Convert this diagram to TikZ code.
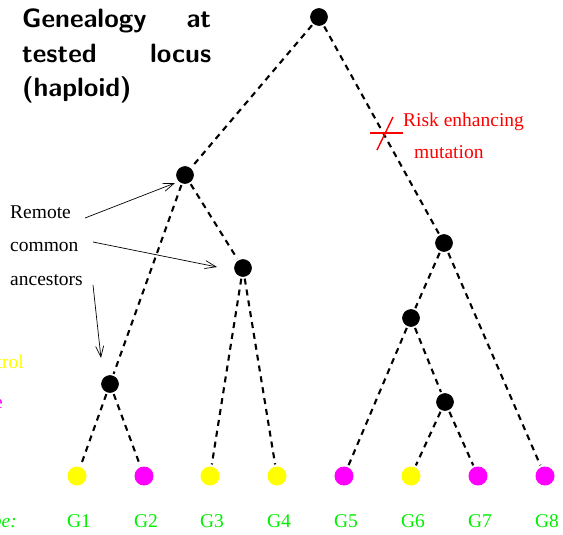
\documentclass[tikz,border=0pt]{standalone}
\usepackage{fontspec}
\setmainfont{Liberation Serif}
\usetikzlibrary{arrows.meta}
\definecolor{ctrl}{RGB}{255,255,0}
\definecolor{cse}{RGB}{255,0,255}
\definecolor{gtext}{RGB}{0,240,0}
\definecolor{mut}{RGB}{255,0,0}
\tikzset{
  anc/.style={circle,fill=black,draw=black,line width=0.6pt,minimum size=17pt,inner sep=0pt},
  leafy/.style={circle,fill=ctrl,minimum size=19pt,inner sep=0pt},
  leafm/.style={circle,fill=cse,minimum size=19pt,inner sep=0pt},
  lineage/.style={line width=2.1pt,dash pattern=on 6pt off 5pt,shorten <=2pt,shorten >=2pt},
  lbl/.style={font=\fontsize{19.5}{22}\selectfont,inner sep=0pt},
  glbl/.style={lbl,text=gtext,anchor=base},
  ttl/.style={anchor=base west,inner sep=0pt,font=\fontsize{26.5}{35}\selectfont\sffamily\bfseries},
  pointer/.style={line width=0.7pt,-{Straight Barb[length=11pt,width=8pt,line width=0.7pt]}},
}
\begin{document}
\begin{tikzpicture}[x=1pt,y=-1pt]
\useasboundingbox (0,0) rectangle (563,535);
\clip (0,0) rectangle (563,535);
% title
\node[ttl] (title1) at (22,28) {\makebox[189pt][s]{Genealogy\hfill at}};
\node[ttl] (title2) at (22,63) {\makebox[189pt][s]{tested\hfill locus}};
\node[ttl] (title3) at (22,97) {(haploid)};
% ancestors
\node[anc] (root) at (319,17) {};
\node[anc] (a) at (185,175) {};
\node[anc] (b) at (243,268) {};
\node[anc] (c) at (110,384) {};
\node[anc] (r) at (444,243) {};
\node[anc] (d) at (411,318) {};
\node[anc] (e) at (445,402) {};
% leaves
\node[leafy] (g1) at (77,476) {};
\node[leafm] (g2) at (144,476) {};
\node[leafy] (g3) at (210,476) {};
\node[leafy] (g4) at (277,476) {};
\node[leafm] (g5) at (344,476) {};
\node[leafy] (g6) at (411,476) {};
\node[leafm] (g7) at (478,476) {};
\node[leafm] (g8) at (545,476) {};
% edges
\draw[lineage] (root) -- (a);
\draw[lineage] (root) -- (r);
\draw[lineage] (a) -- (c);
\draw[lineage] (a) -- (b);
\draw[lineage] (c) -- (g1);
\draw[lineage] (c) -- (g2);
\draw[lineage] (b) -- (g3);
\draw[lineage] (b) -- (g4);
\draw[lineage] (r) -- (d);
\draw[lineage] (r) -- (g8);
\draw[lineage] (d) -- (g5);
\draw[lineage] (d) -- (e);
\draw[lineage] (e) -- (g6);
\draw[lineage] (e) -- (g7);
% mutation
\coordinate (m1) at (370,133);
\coordinate (m2) at (403,133);
\coordinate (m3) at (377,150);
\coordinate (m4) at (393,117);
\draw[mut,line width=1.4pt] (m1) -- (m2);
\draw[mut,line width=1.4pt] (m3) -- (m4);
\node[lbl,text=mut,anchor=base west] (risk) at (403,127) {Risk enhancing};
\node[lbl,text=mut,anchor=base west] (mutn) at (414,158) {mutation};
% remote common ancestors
\node[lbl,anchor=base west] (remote) at (10,218) {Remote};
\node[lbl,anchor=base west] (common) at (10,251) {common};
\node[lbl,anchor=base west] (ancs) at (10,285) {ancestors};
\coordinate (p1s) at (85,218);
\coordinate (p1e) at (175,183);
\coordinate (p2s) at (93,242);
\coordinate (p2e) at (217,267);
\coordinate (p3s) at (93,285);
\coordinate (p3e) at (101,358);
\draw[pointer] (p1s) -- (p1e);
\draw[pointer] (p2s) -- (p2e);
\draw[pointer] (p3s) -- (p3e);
% legend (cropped at left, as in the reference)
\node[lbl,text=ctrl,anchor=base east] (control) at (24,368) {Control};
\node[lbl,text=cse,anchor=base east] (case) at (3,408) {Case};
\node[lbl,text=gtext,anchor=base east] (geno) at (17,527) {\itshape Genotype:};
% genotype labels
\node[glbl] (l1) at (79,527) {G1};
\node[glbl] (l2) at (146,527) {G2};
\node[glbl] (l3) at (212,527) {G3};
\node[glbl] (l4) at (279,527) {G4};
\node[glbl] (l5) at (346,527) {G5};
\node[glbl] (l6) at (413,527) {G6};
\node[glbl] (l7) at (480,527) {G7};
\node[glbl] (l8) at (547,527) {G8};
\end{tikzpicture}
\end{document}
